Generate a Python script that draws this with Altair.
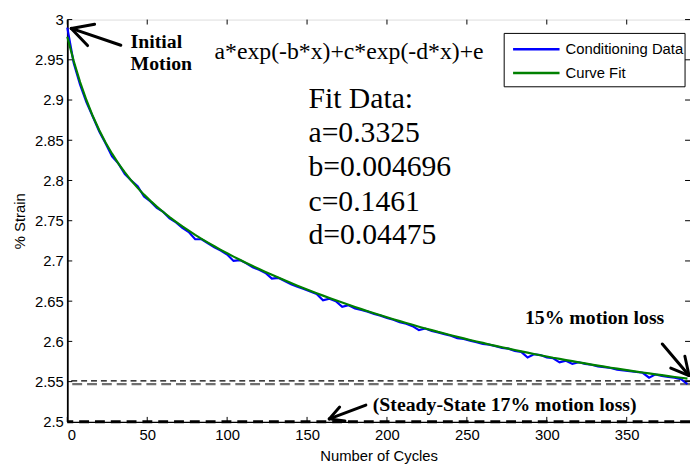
import altair as alt
import pandas as pd

# ---------------- data ----------------
cycles = list(range(0, 389, 4))  # 0 .. 388

fit_strain = [
    2.9786, 2.9485, 2.9224, 2.8997, 2.8798, 2.8624, 2.8470, 2.8333, 2.8210, 2.8100,
    2.7999, 2.7908, 2.7824, 2.7747, 2.7675, 2.7608, 2.7545, 2.7486, 2.7429, 2.7376,
    2.7324, 2.7275, 2.7228, 2.7182, 2.7138, 2.7095, 2.7054, 2.7014, 2.6975, 2.6937,
    2.6899, 2.6863, 2.6827, 2.6793, 2.6759, 2.6726, 2.6693, 2.6661, 2.6630, 2.6599,
    2.6569, 2.6540, 2.6511, 2.6483, 2.6455, 2.6428, 2.6401, 2.6375, 2.6350, 2.6325,
    2.6300, 2.6276, 2.6252, 2.6229, 2.6206, 2.6183, 2.6161, 2.6140, 2.6118, 2.6098,
    2.6077, 2.6057, 2.6037, 2.6018, 2.5999, 2.5981, 2.5962, 2.5944, 2.5927, 2.5910,
    2.5893, 2.5876, 2.5860, 2.5844, 2.5828, 2.5813, 2.5797, 2.5783, 2.5768, 2.5754,
    2.5740, 2.5726, 2.5712, 2.5699, 2.5686, 2.5673, 2.5661, 2.5649, 2.5637, 2.5625,
    2.5613, 2.5602, 2.5590, 2.5580, 2.5569, 2.5558, 2.5548, 2.5538,
]

data_strain = [
    2.990, 2.946, 2.919, 2.897, 2.879, 2.861, 2.846, 2.830, 2.821, 2.808,
    2.800, 2.793, 2.780, 2.774, 2.766, 2.761, 2.753, 2.748, 2.741, 2.736,
    2.727, 2.727, 2.722, 2.717, 2.713, 2.708, 2.700, 2.701, 2.697, 2.692,
    2.689, 2.685, 2.678, 2.679, 2.675, 2.671, 2.668, 2.665, 2.662, 2.659,
    2.651, 2.653, 2.650, 2.643, 2.645, 2.641, 2.639, 2.637, 2.634, 2.632,
    2.629, 2.627, 2.624, 2.622, 2.619, 2.614, 2.616, 2.613, 2.611, 2.609,
    2.607, 2.604, 2.603, 2.601, 2.599, 2.597, 2.596, 2.594, 2.592, 2.591,
    2.588, 2.587, 2.580, 2.584, 2.583, 2.580, 2.579, 2.574, 2.576, 2.572,
    2.574, 2.572, 2.571, 2.569, 2.568, 2.567, 2.565, 2.564, 2.563, 2.562,
    2.561, 2.555, 2.559, 2.557, 2.556, 2.555, 2.553, 2.547,
]

series_names = ["Conditioning Data", "Curve Fit"]
series_colors = ["#0000ff", "#008000"]

x_ticks = [0, 50, 100, 150, 200, 250, 300, 350]
y_ticks = [2.5, 2.55, 2.6, 2.65, 2.7, 2.75, 2.8, 2.85, 2.9, 2.95, 3.0]

# reference lines
steady_line = [2.5]
loss_line_black = [2.551]
loss_line_gray = [2.547]

# regular serif annotations
note_text = ["a*exp(-b*x)+c*exp(-d*x)+e", "Fit Data:", "a=0.3325", "b=0.004696", "c=0.1461", "d=0.04475"]
note_x = [92.1, 150.9, 150.9, 150.9, 150.9, 150.9]
note_y = [2.951, 2.8897, 2.8480, 2.8051, 2.7623, 2.7206]
note_size = [24, 30, 30, 30, 30, 30]

# bold serif annotations
bold_text = ["Initial", "Motion", "15% motion loss", "(Steady-State 17% motion loss)"]
bold_x = [39.6, 39.6, 286.3, 191.1]
bold_y = [2.9645, 2.9375, 2.6213, 2.5135]

# arrow segments (shaft + two head strokes per arrow)
arrow_x1 = [2.47, 2.47, 2.47, 389.0, 389.0, 389.0, 163.9, 163.9, 163.9]
arrow_y1 = [2.989, 2.989, 2.989, 2.5576, 2.5576, 2.5576, 2.5037, 2.5037, 2.5037]
arrow_x2 = [33.5, 12.68, 17.07, 372.3, 377.6, 386.4, 186.8, 170.4, 173.7]
arrow_y2 = [2.9681, 2.96765, 2.99412, 2.5968, 2.5668, 2.5816, 2.5208, 2.5184, 2.5012]

# ---------------- chart ----------------
W, H = 630, 407
FONT = "Liberation Sans"
SERIF = "Liberation Serif"

lines_df = pd.DataFrame({
    "cycle": cycles * 2,
    "strain": data_strain + fit_strain,
    "series": [series_names[0]] * len(cycles) + [series_names[1]] * len(cycles),
    "order": [0] * len(cycles) + [1] * len(cycles),
})

xscale = alt.Scale(domain=[0, 389.6], nice=False, zero=False)
yscale = alt.Scale(domain=[2.5, 3.0], nice=False, zero=False)

xaxis = alt.Axis(values=x_ticks, title="Number of Cycles", tickSize=0, labelPadding=6,
                 labelFont=FONT, labelFontSize=15, labelColor="black",
                 titleFont=FONT, titleFontSize=15, titleFontWeight="normal", titleColor="black",
                 titlePadding=6, domainColor="black", domainWidth=1.2, grid=False)
yaxis = alt.Axis(values=y_ticks, format=".2~f", title="% Strain", tickSize=0, labelPadding=4,
                 labelFont=FONT, labelFontSize=15, labelColor="black",
                 titleFont=FONT, titleFontSize=15, titleFontWeight="normal", titleColor="black",
                 titlePadding=7, domainColor="black", domainWidth=1.8, grid=False)

lines = alt.Chart(lines_df).mark_line(strokeWidth=2.2).encode(
    x=alt.X("cycle:Q", scale=xscale, axis=xaxis),
    y=alt.Y("strain:Q", scale=yscale, axis=yaxis),
    color=alt.Color("series:N", scale=alt.Scale(domain=series_names, range=series_colors),
                    legend=None),
    detail="order:O",
)

def hline(values, color, width, dash):
    return alt.Chart(pd.DataFrame({"strain": values})).mark_rule(
        color=color, strokeWidth=width, strokeDash=dash).encode(y=alt.Y("strain:Q", scale=yscale))

gray_line = hline(loss_line_gray, "#707070", 2.2, [10, 5])
black_line = hline(loss_line_black, "black", 1.2, [6, 4])
steady = hline(steady_line, "black", 3, [10, 6])

tx = pd.DataFrame({"t": x_ticks})
ty = pd.DataFrame({"t": y_ticks})
tick_bottom = alt.Chart(tx).mark_rule(color="black").encode(
    x=alt.X("t:Q", scale=xscale), y=alt.value(H), y2=alt.value(H - 5))
tick_top = alt.Chart(tx).mark_rule(color="black").encode(
    x=alt.X("t:Q", scale=xscale), y=alt.value(0), y2=alt.value(5))
tick_left = alt.Chart(ty).mark_rule(color="black").encode(
    y=alt.Y("t:Q", scale=yscale), x=alt.value(0), x2=alt.value(5))
tick_right = alt.Chart(ty).mark_rule(color="black").encode(
    y=alt.Y("t:Q", scale=yscale), x=alt.value(W), x2=alt.value(W - 5))

notes_df = pd.DataFrame({"text": note_text, "x": note_x, "y": note_y, "size": note_size})
notes = alt.Chart(notes_df).mark_text(font=SERIF, align="left", baseline="alphabetic",
                                      color="black").encode(
    x=alt.X("x:Q", scale=xscale), y=alt.Y("y:Q", scale=yscale),
    text="text:N", size=alt.Size("size:Q", scale=None))

bold_df = pd.DataFrame({"text": bold_text, "x": bold_x, "y": bold_y})
bolds = alt.Chart(bold_df).mark_text(font=SERIF, fontWeight="bold", fontSize=20, align="left",
                                     baseline="alphabetic", color="black").encode(
    x=alt.X("x:Q", scale=xscale), y=alt.Y("y:Q", scale=yscale), text="text:N")

arrows_df = pd.DataFrame({"x1": arrow_x1, "y1": arrow_y1, "x2": arrow_x2, "y2": arrow_y2})
arrows = alt.Chart(arrows_df).mark_rule(color="black", strokeWidth=3, strokeCap="round").encode(
    x=alt.X("x1:Q", scale=xscale), y=alt.Y("y1:Q", scale=yscale), x2="x2:Q", y2="y2:Q")

# ---- MATLAB-style legend box (inside the plot, upper right) ----
one = pd.DataFrame({"k": [0]})
LX0, LX1, LY0, LY1 = 442, 625, 14, 68
legend_box = alt.Chart(one).mark_rect(fill="white", stroke="black", strokeWidth=1).encode(
    x=alt.value(LX0), x2=alt.value(LX1), y=alt.value(LY0), y2=alt.value(LY1))
legend_parts = []
for i, (name, col) in enumerate(zip(series_names, series_colors)):
    yy = 30 + 24 * i
    legend_parts.append(alt.Chart(one).mark_rule(color=col, strokeWidth=2.5).encode(
        x=alt.value(LX0 + 9), x2=alt.value(LX0 + 56), y=alt.value(yy)))
    legend_parts.append(alt.Chart(one).mark_text(text=name, font=FONT, fontSize=15, align="left",
                                                 baseline="middle", color="black").encode(
        x=alt.value(LX0 + 62), y=alt.value(yy)))

chart = alt.layer(
    gray_line, black_line, steady, lines,
    tick_bottom, tick_top, tick_left, tick_right,
    notes, bolds, arrows, legend_box, *legend_parts,
).properties(
    width=W, height=H,
    autosize=alt.AutoSizeParams(type="none"),
    padding={"left": 60, "top": 9, "right": 0, "bottom": 46},
).configure_view(stroke="black", strokeWidth=1).configure(background="white")

chart.save("out.html", embed_options={"renderer": "svg", "actions": False})
